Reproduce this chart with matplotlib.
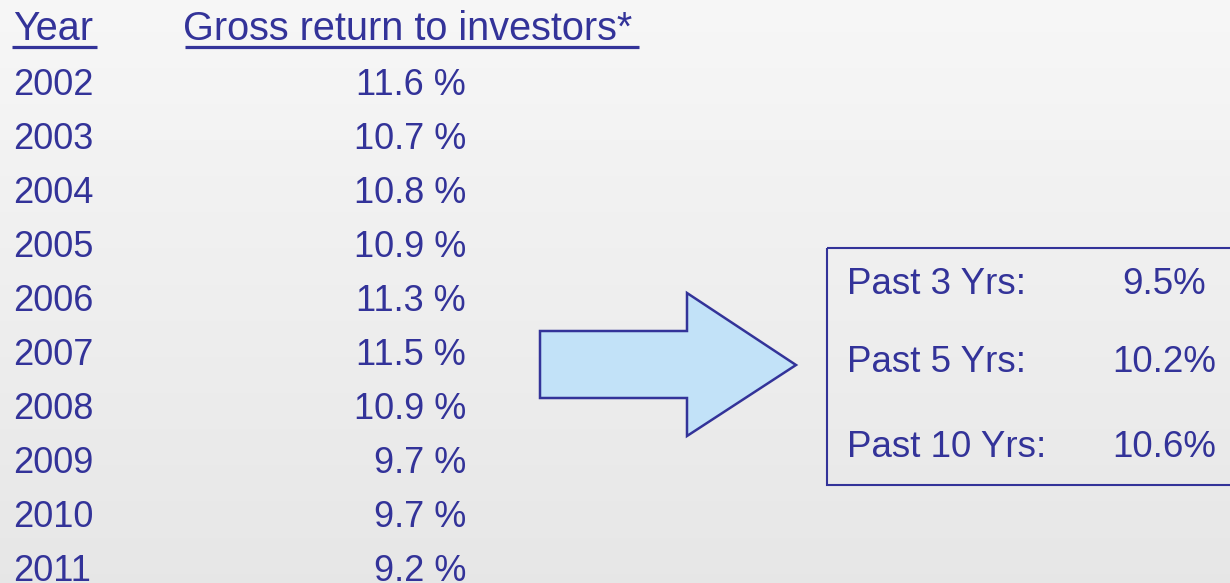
import matplotlib
matplotlib.use("Agg")
import matplotlib.pyplot as plt
import numpy as np
from matplotlib.patches import Polygon, Rectangle

years = ["2002", "2003", "2004", "2005", "2006", "2007", "2008", "2009", "2010", "2011"]
returns = [11.6, 10.7, 10.8, 10.9, 11.3, 11.5, 10.9, 9.7, 9.7, 9.2]
summary_labels = ["Past 3 Yrs:", "Past 5 Yrs:", "Past 10 Yrs:"]
summary_values = [9.5, 10.2, 10.6]
header_year = "Year"
header_return = "Gross return to investors*"

W, H = 1230, 583
TXT = "#333399"
plt.rcParams['font.family'] = ['Liberation Sans', 'DejaVu Sans']

fig = plt.figure(figsize=(W / 100, H / 100), dpi=100)
ax = fig.add_axes([0, 0, 1, 1])
ax.set_xlim(0, W)
ax.set_ylim(H, 0)
ax.axis("off")

# background gradient
grad = np.linspace(0.968, 0.905, 256).reshape(-1, 1)
ax.imshow(np.dstack([grad, grad, grad]), extent=[0, W, H, 0], aspect="auto", zorder=0)

fs = 26
fs_head = 28.5
# headers
ax.text(13, 40, header_year, color=TXT, fontsize=fs_head, va="baseline", ha="left")
ax.text(183, 40, header_return, color=TXT, fontsize=fs_head, va="baseline", ha="left")
ax.plot([12, 97], [46.5, 46.5], color=TXT, lw=2.3, solid_capstyle="butt")
ax.plot([185, 639], [46.5, 46.5], color=TXT, lw=2.3, solid_capstyle="butt")

y0, dy = 95, 54.0
for i, (yr, r) in enumerate(zip(years, returns)):
    y = y0 + i * dy
    ax.text(13, y, yr, color=TXT, fontsize=fs, va="baseline", ha="left")
    ax.text(466, y, f"{r:.1f} %", color=TXT, fontsize=fs, va="baseline", ha="right")

# arrow
arrow = Polygon([(540, 331), (687, 331), (687, 293), (796, 365), (687, 436),
                 (687, 398), (540, 398)], closed=True, facecolor="#c2e2f8",
                edgecolor=TXT, lw=1.8, zorder=2)
ax.add_patch(arrow)

# box
box = Rectangle((827, 248), 420, 237, facecolor="none", edgecolor=TXT, lw=1.5, zorder=2)
ax.add_patch(box)
sy = [294, 372, 457]
for lab, v, y in zip(summary_labels, summary_values, sy):
    ax.text(847, y, lab, color=TXT, fontsize=26.5, va="baseline", ha="left")
    ax.text(1164, y, f"{v:.1f}%", color=TXT, fontsize=26.5, va="baseline", ha="center")

fig.savefig("out.png", dpi=100)
